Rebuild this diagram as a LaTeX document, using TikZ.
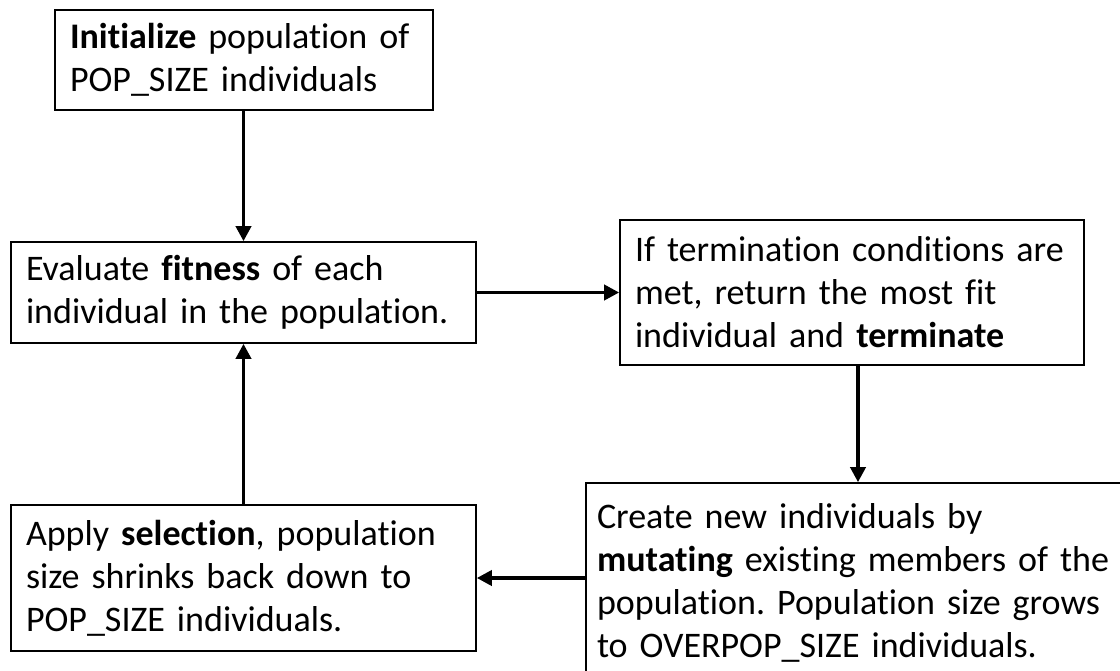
\documentclass[tikz,border=0pt]{standalone}
\usepackage{fontspec}
\setmainfont{Carlito}[Ligatures={NoCommon}]
\frenchspacing
\usetikzlibrary{arrows.meta}
\newcommand{\myboxfont}{\fontsize{36}{43}\selectfont\spaceskip=0.19em\relax}
\begin{document}
\begin{tikzpicture}[x=1pt,y=-1pt,
  box/.style={draw=black, line width=2.6pt, rectangle, align=left, inner xsep=15pt, inner ysep=0pt,
    font=\myboxfont, anchor=center},
  arr/.style={line width=3.6pt, -{Triangle[length=15pt,width=15pt]}, shorten >=-0.5pt}
]
\useasboundingbox (0,0) rectangle (1120,670);
\clip (0,0) rectangle (1120,670);
\node[box, minimum width=378pt, minimum height=100pt, text width=348pt] (init) at (244,60)
  {\textbf{Initialize} population of\\POP\_SIZE individuals};
\node[box, minimum width=465pt, minimum height=101pt, text width=435pt] (eval) at (243.5,292.5)
  {Evaluate \textbf{fitness} of each\\individual in the population.};
\node[box, minimum width=464pt, minimum height=145pt, text width=434pt, inner xsep=13pt] (iff) at (852,292.5)
  {If termination conditions are\\met, return the most fit\\individual and \textbf{terminate}};
\node[box, minimum width=544pt, minimum height=200pt, text width=522pt, inner xsep=10pt] (create) at (858,583)
  {Create new individuals by\\\textbf{mutating} existing members of the\\population. Population size grows\\to OVERPOP\_SIZE individuals.};
\node[box, minimum width=465pt, minimum height=146pt, text width=435pt] (apply) at (243.5,578)
  {Apply \textbf{selection}, population\\size shrinks back down to\\POP\_SIZE individuals.};
\draw[arr] (init.south -| eval.north) -- (eval.north);
\draw[arr] (eval.east) -- (iff.west);
\draw[arr] (iff.south -| create.north) -- (create.north);
\draw[arr] (create.west |- apply.east) -- (apply.east);
\draw[arr] (apply.north) -- (eval.south);
\end{tikzpicture}
\end{document}
